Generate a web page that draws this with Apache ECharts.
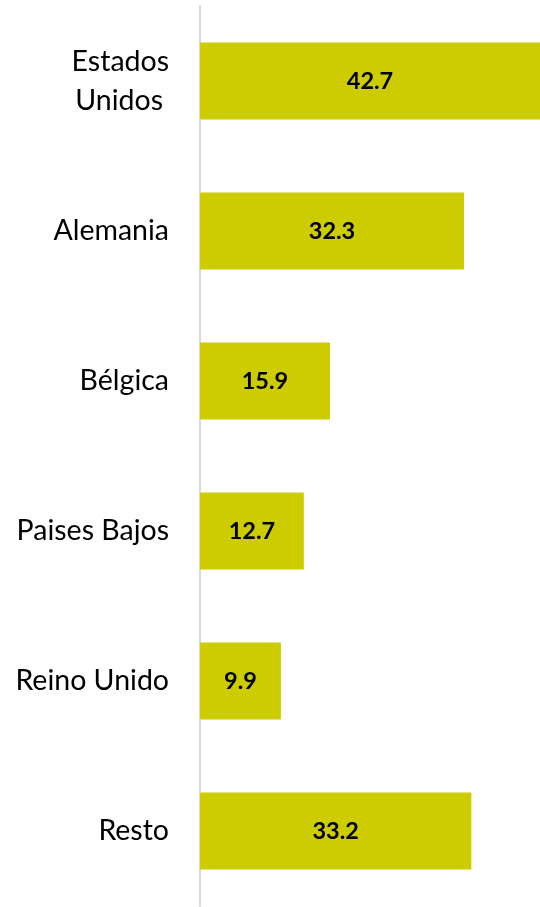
<!DOCTYPE html>
<html><head><meta charset="utf-8">
<script src="https://cdn.jsdelivr.net/npm/echarts@6/dist/echarts.min.js"></script>
<style>html,body{margin:0;padding:0;background:#fff}#c{width:540px;height:907px}</style>
</head><body><div id="c"></div>
<script>
const categories = ["Estados\nUnidos", "Alemania", "Bélgica", "Paises Bajos", "Reino Unido", "Resto"];
const values = [42.7, 32.3, 15.9, 12.7, 9.9, 33.2];

const chart = echarts.init(document.getElementById('c'), null, {renderer: 'canvas'});
chart.setOption({
  animation: false,
  grid: {left: 200, top: 6, right: 0, bottom: 1, containLabel: false},
  xAxis: {type: 'value', min: 0, max: 41.6, show: false},
  yAxis: {
    type: 'category', data: categories, inverse: true,
    axisLine: {show: true, lineStyle: {color: '#d9d9d9', width: 2}},
    axisTick: {show: false},
    axisLabel: {
      color: '#000', fontFamily: 'Lato', fontSize: 28.5, margin: 31, lineHeight: 39, align: 'right',
      formatter: v => v.indexOf('\n') >= 0 ? v.split('\n').map((s, i) => i === 0 ? '{a|' + s + '}' : '{b|' + s + '}').join('\n') : v,
      rich: {
        a: {fontFamily: 'Lato', fontSize: 28.5, color: '#000', lineHeight: 39},
        b: {fontFamily: 'Lato', fontSize: 28.5, color: '#000', lineHeight: 39, padding: [0, 6, 0, 0]}
      }
    }
  },
  series: [{
    type: 'bar', data: values, barWidth: 77,
    itemStyle: {color: '#cccc00'},
    label: {show: true, position: 'inside', color: '#000', fontWeight: 'bold', fontFamily: 'Lato', fontSize: 23.5,
      formatter: p => p.value.toFixed(1)}
  }]
});
</script></body></html>
